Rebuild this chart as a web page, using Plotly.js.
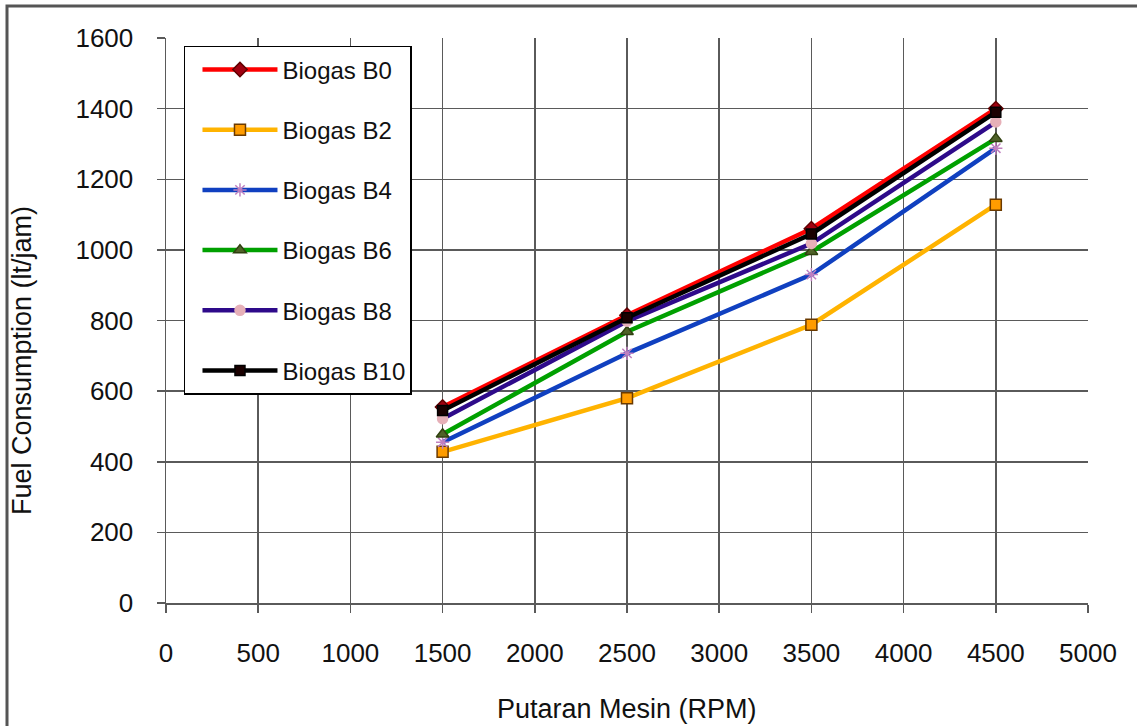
<!DOCTYPE html>
<html>
<head>
<meta charset="utf-8">
<script src="https://cdn.plot.ly/plotly-3.0.1.min.js"></script>
<style>html,body{margin:0;padding:0;background:#fff;}#chart{width:1137px;height:726px;}</style>
</head>
<body>
<div id="chart"></div>
<script>
// Data
const rpm = [1500, 2500, 3500, 4500];
const seriesNames = ["Biogas B0", "Biogas B2", "Biogas B4", "Biogas B6", "Biogas B8", "Biogas B10"];
const b0  = [555, 815, 1060, 1400];
const b2  = [428, 580, 788, 1128];
const b4  = [455, 707, 930, 1288];
const b6  = [478, 768, 995, 1315];
const b8  = [522, 798, 1018, 1362];
const b10 = [545, 808, 1045, 1390];
const xTitle = "Putaran Mesin (RPM)";
const yTitle = "Fuel Consumption (lt/jam)";

const values = [b0, b2, b4, b6, b8, b10];
const styles = [
  {line:'#FF0000', sym:'diamond', mc:'#A00010', ml:'#600000', ms:11},
  {line:'#FFB300', sym:'square', mc:'#FF9C00', ml:'#6B3A00', ms:11},
  {line:'#1040C0', sym:'asterisk-open', mc:'#C080C0', ml:'#C080C0', ms:11},
  {line:'#00A000', sym:'triangle-up', mc:'#4F6228', ml:'#304010', ms:11},
  {line:'#2E0A8A', sym:'circle', mc:'#E6B0B8', ml:'#E6B0B8', ms:10},
  {line:'#000000', sym:'square', mc:'#1A0000', ml:'#000000', ms:10}
];

const traces = values.map((v, i) => ({
  x: rpm, y: v, name: seriesNames[i], type: 'scatter', mode: 'lines+markers',
  legendgroup: 'g' + i,
  line: {color: styles[i].line, width: 4.5},
  marker: {symbol: styles[i].sym, size: styles[i].ms, color: styles[i].mc,
           line: {color: styles[i].ml, width: 1.5}}
}));

const font = {family: 'Liberation Sans, Arial, sans-serif', color: '#111'};
const axisCommon = {
  showgrid: true, gridcolor: '#5a5a5a', gridwidth: 1.5,
  showline: true, linecolor: '#5a5a5a', linewidth: 1.5,
  ticks: 'outside', ticklen: 8, tickcolor: '#5a5a5a', tickwidth: 1.5,
  zeroline: false, tickfont: {family: font.family, size: 26, color: '#111'},
  ticklabelstandoff: 18, automargin: false, fixedrange: true
};

const layout = {
  width: 1137, height: 726,
  margin: {l: 166, r: 49, t: 38, b: 123},
  paper_bgcolor: '#fff', plot_bgcolor: '#fff',
  font: font,
  showlegend: true,
  legend: {
    x: 0.0195, y: 0.986, xanchor: 'left', yanchor: 'top',
    bgcolor: '#fff', bordercolor: '#000', borderwidth: 1.5,
    font: {family: font.family, size: 24, color: '#111'},
    traceorder: 'grouped', tracegroupgap: 26, itemwidth: 75, indentation: 12
  },
  xaxis: Object.assign({}, axisCommon, {range: [0, 5000], dtick: 500, tick0: 0}),
  yaxis: Object.assign({}, axisCommon, {range: [0, 1600], dtick: 200, tick0: 0}),
  annotations: [
    {text: xTitle, xref: 'paper', yref: 'paper', x: 0.5, y: (603 - 709) / 565,
     xanchor: 'center', yanchor: 'middle', showarrow: false,
     font: {family: font.family, size: 27, color: '#111'}},
    {text: yTitle, xref: 'paper', yref: 'paper', x: (22 - 166) / 922, y: (603 - 361) / 565,
     xanchor: 'center', yanchor: 'middle', showarrow: false, textangle: -90,
     font: {family: font.family, size: 27, color: '#111'}}
  ],
  shapes: [
    {type: 'rect', xref: 'paper', yref: 'paper',
     x0: (7 - 166) / 922, x1: 1.2, y0: -0.4, y1: (603 - 6) / 565,
     line: {color: '#555', width: 3}, fillcolor: 'rgba(0,0,0,0)', layer: 'below'}
  ]
};

Plotly.newPlot('chart', traces, layout, {displayModeBar: false, staticPlot: true});
</script>
</body>
</html>
